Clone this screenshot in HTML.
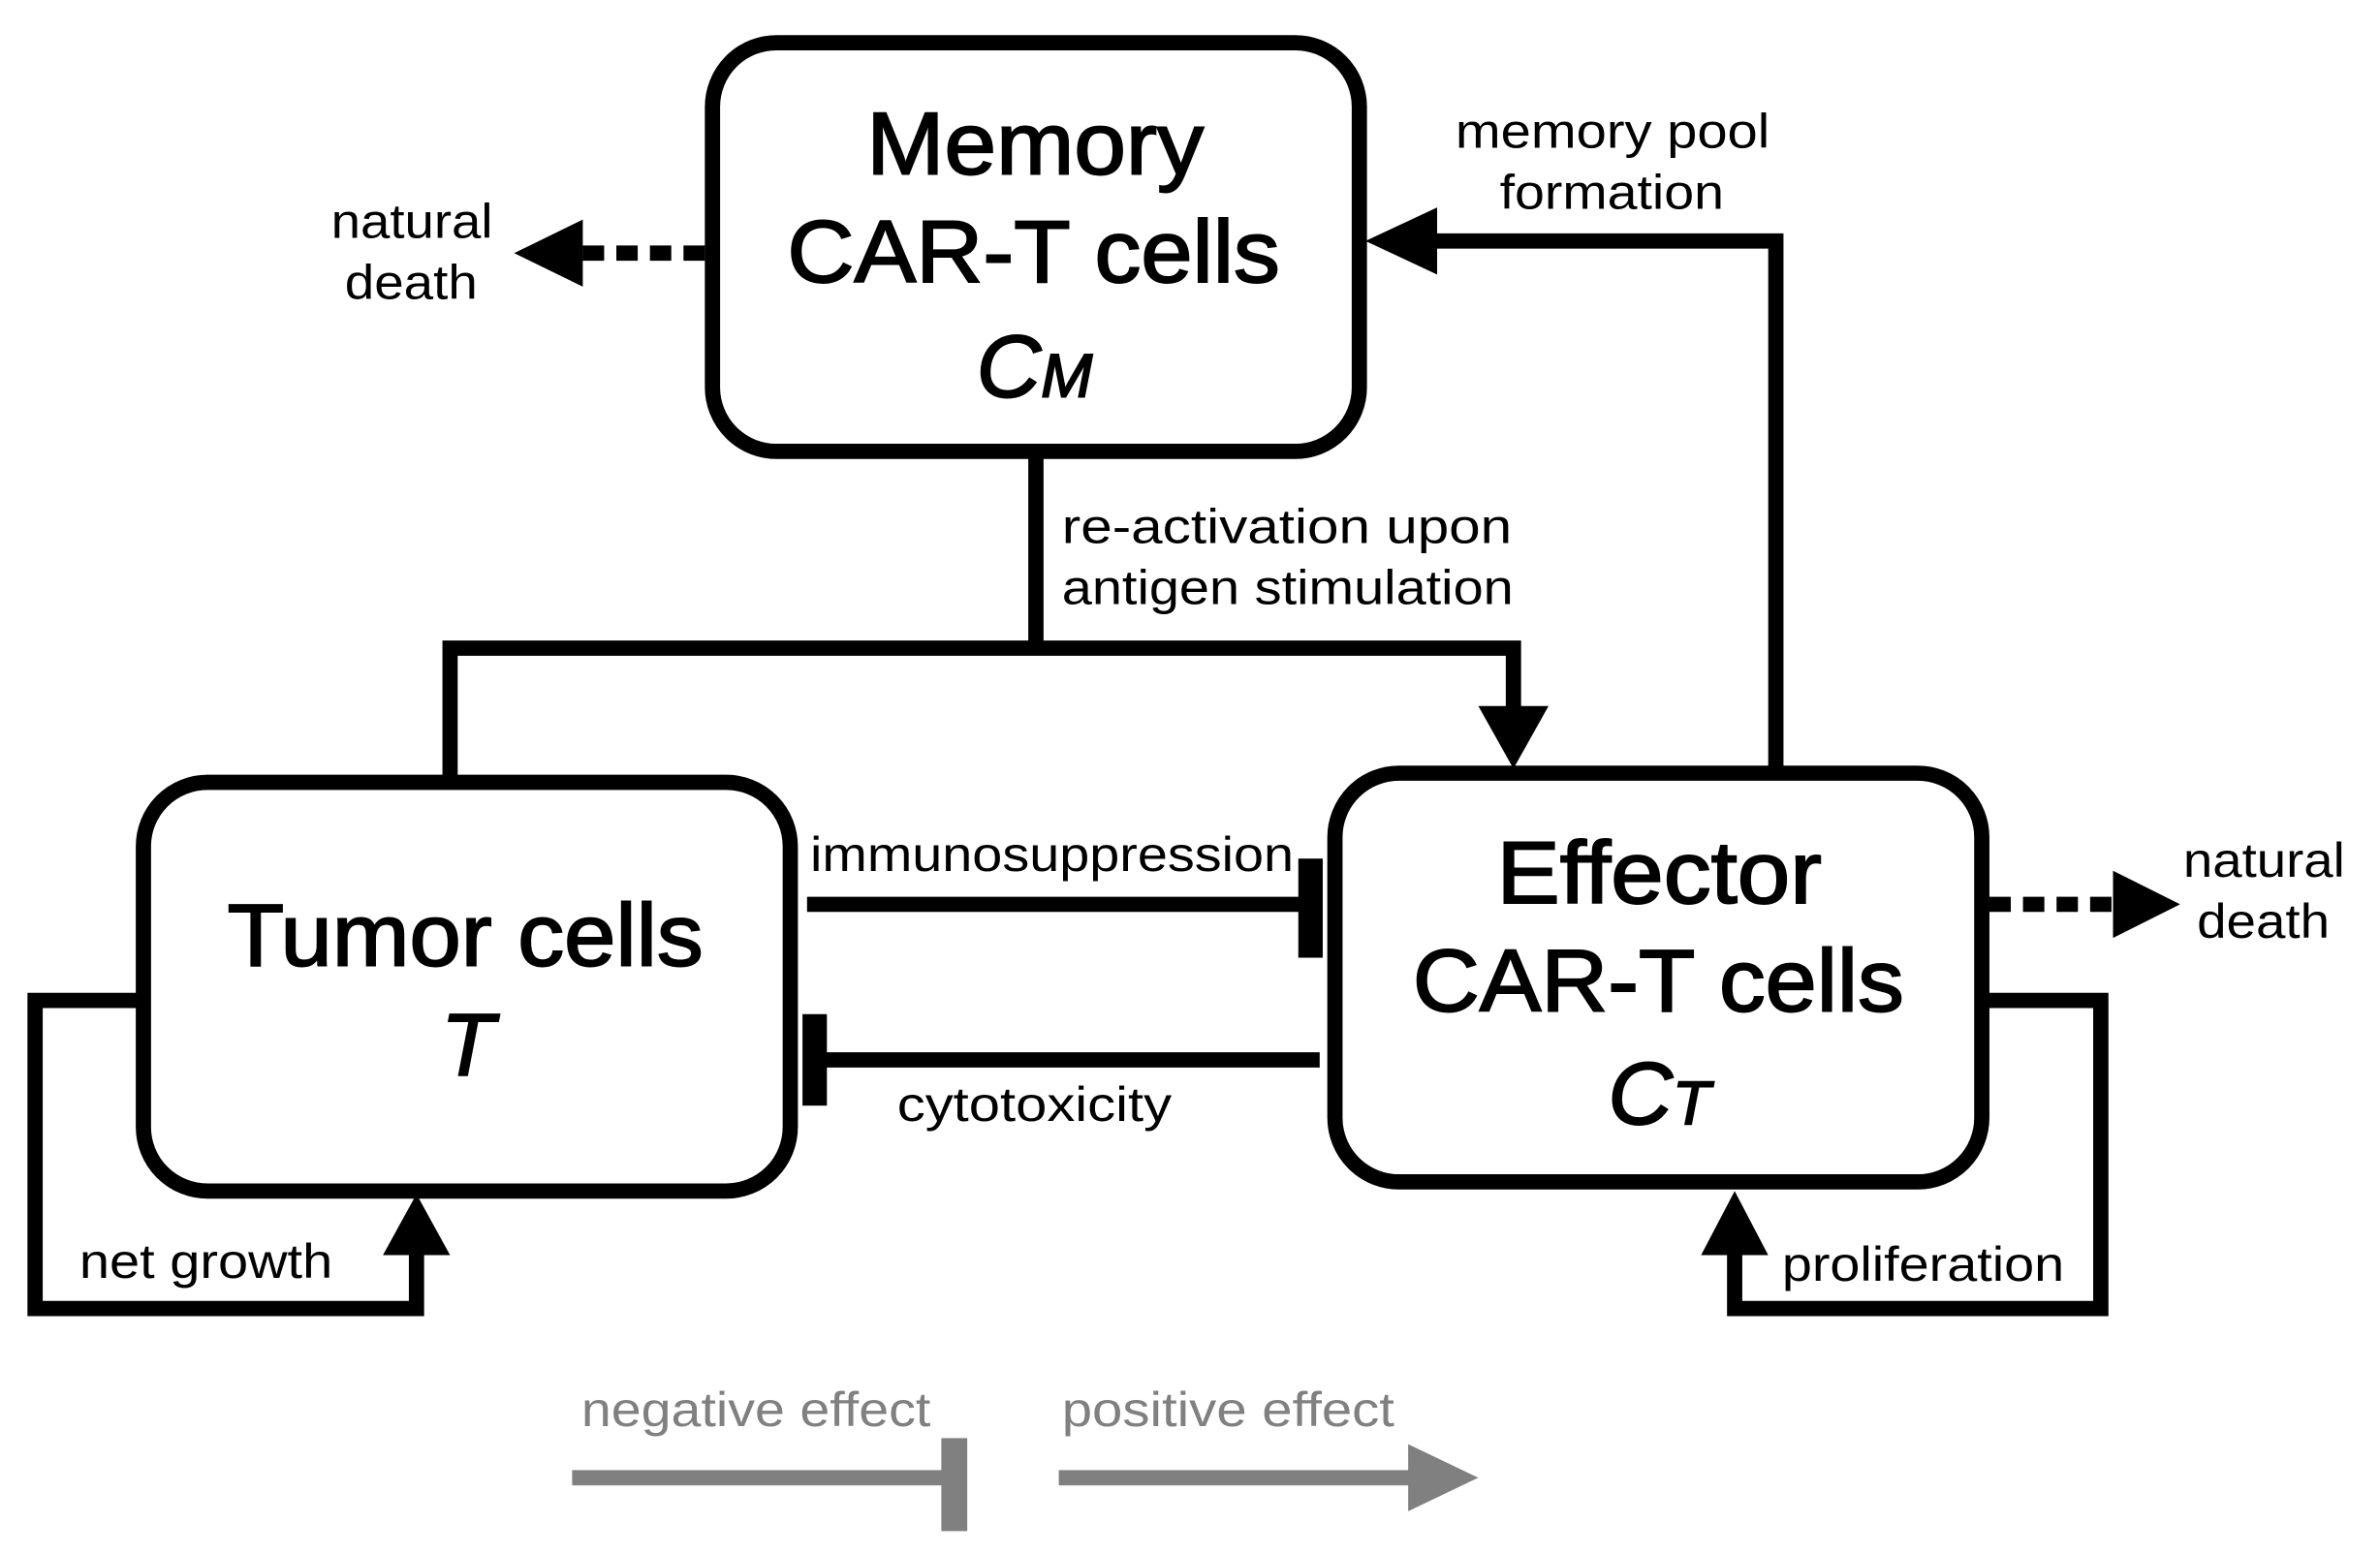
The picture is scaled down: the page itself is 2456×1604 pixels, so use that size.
<!DOCTYPE html>
<html><head><meta charset="utf-8"><style>
html,body{margin:0;padding:0;background:#fff;}
svg{display:block;}
text{font-family:"Liberation Sans",Arial,sans-serif;fill:#000;}
</style></head><body>
<svg width="2456" height="1604" viewBox="0 0 1560 1019" preserveAspectRatio="none" xmlns="http://www.w3.org/2000/svg">
<g transform="translate(-3,-2)">
<g fill="none" stroke="#000" stroke-width="10">
<rect x="470" y="30" width="424" height="268" rx="42"/>
<rect x="97" y="515" width="424" height="268" rx="42"/>
<rect x="878" y="509" width="424" height="268" rx="42"/>
<polyline points="682,300 682,427"/>
<polyline points="298,513 298,427 995,427 995,468"/>
<polyline points="1167,505 1167,160 940,160"/>
<line x1="532" y1="595" x2="860" y2="595"/>
<line x1="868" y1="697" x2="540" y2="697"/>
<polyline points="95,658 26,658 26,860 276,860 276,822"/>
<polyline points="1305,658 1380,658 1380,860 1140,860 1140,822"/>
<line x1="465" y1="168" x2="385" y2="168" stroke-dasharray="14,8"/>
<line x1="1307" y1="595" x2="1390" y2="595" stroke-dasharray="14,8"/>
</g>
<g fill="#000">
<polygon points="972,465 1018,465 995,506"/>
<polygon points="945,138 945,182 898,160"/>
<polygon points="254,825 298,825 276,785"/>
<polygon points="1118,825 1162,825 1140,783"/>
<polygon points="385,146 385,190 340,168"/>
<polygon points="1388,573 1388,617 1432,595"/>
<rect x="854" y="565" width="16" height="65"/>
<rect x="529" y="667" width="16" height="60"/>
</g>
<g fill="#808080">
<rect x="378" y="966" width="246" height="10"/>
<rect x="620" y="945" width="17" height="61"/>
<rect x="697" y="966" width="232" height="10"/>
<polygon points="926,949 926,993 972,971"/>
</g>
</g>
<g transform="translate(-4,-1)">
<g font-size="58" stroke="#000" stroke-width="1.2">
<text x="572" y="115" textLength="221" lengthAdjust="spacingAndGlyphs">Memory</text>
<text x="520" y="186" textLength="323" lengthAdjust="spacingAndGlyphs">CAR-T cells</text>
<text x="644" y="261" font-style="italic" textLength="76" lengthAdjust="spacingAndGlyphs">C<tspan font-size="40">M</tspan></text>
<text x="153" y="634" textLength="312" lengthAdjust="spacingAndGlyphs">Tumor cells</text>
<text x="293" y="706" font-style="italic" textLength="35" lengthAdjust="spacingAndGlyphs">T</text>
<text x="985" y="593" textLength="213" lengthAdjust="spacingAndGlyphs">Effector</text>
<text x="930" y="664" textLength="322" lengthAdjust="spacingAndGlyphs">CAR-T cells</text>
<text x="1058" y="738" font-style="italic" textLength="67" lengthAdjust="spacingAndGlyphs">C<tspan font-size="40">T</tspan></text>
</g>
<g font-size="32">
<text x="221" y="157" textLength="106" lengthAdjust="spacingAndGlyphs">natural</text>
<text x="230" y="197" textLength="87" lengthAdjust="spacingAndGlyphs">death</text>
<text x="1435" y="576" textLength="106" lengthAdjust="spacingAndGlyphs">natural</text>
<text x="1444" y="616" textLength="87" lengthAdjust="spacingAndGlyphs">death</text>
<text x="958" y="98" textLength="206" lengthAdjust="spacingAndGlyphs">memory pool</text>
<text x="987" y="138" textLength="147" lengthAdjust="spacingAndGlyphs">formation</text>
<text x="700" y="357" textLength="295" lengthAdjust="spacingAndGlyphs">re-activation  upon</text>
<text x="700" y="397" textLength="296" lengthAdjust="spacingAndGlyphs">antigen stimulation</text>
<text x="535" y="572" textLength="317" lengthAdjust="spacingAndGlyphs">immunosuppression</text>
<text x="592" y="736" textLength="180" lengthAdjust="spacingAndGlyphs">cytotoxicity</text>
<text x="56" y="839" textLength="166" lengthAdjust="spacingAndGlyphs">net growth</text>
<text x="1172" y="841" textLength="185" lengthAdjust="spacingAndGlyphs">proliferation</text>
<text x="385" y="936" style="fill:#808080" textLength="229" lengthAdjust="spacingAndGlyphs">negative effect</text>
<text x="700" y="936" style="fill:#808080" textLength="218" lengthAdjust="spacingAndGlyphs">positive effect</text>
</g>
</g>
</svg>
</body></html>
